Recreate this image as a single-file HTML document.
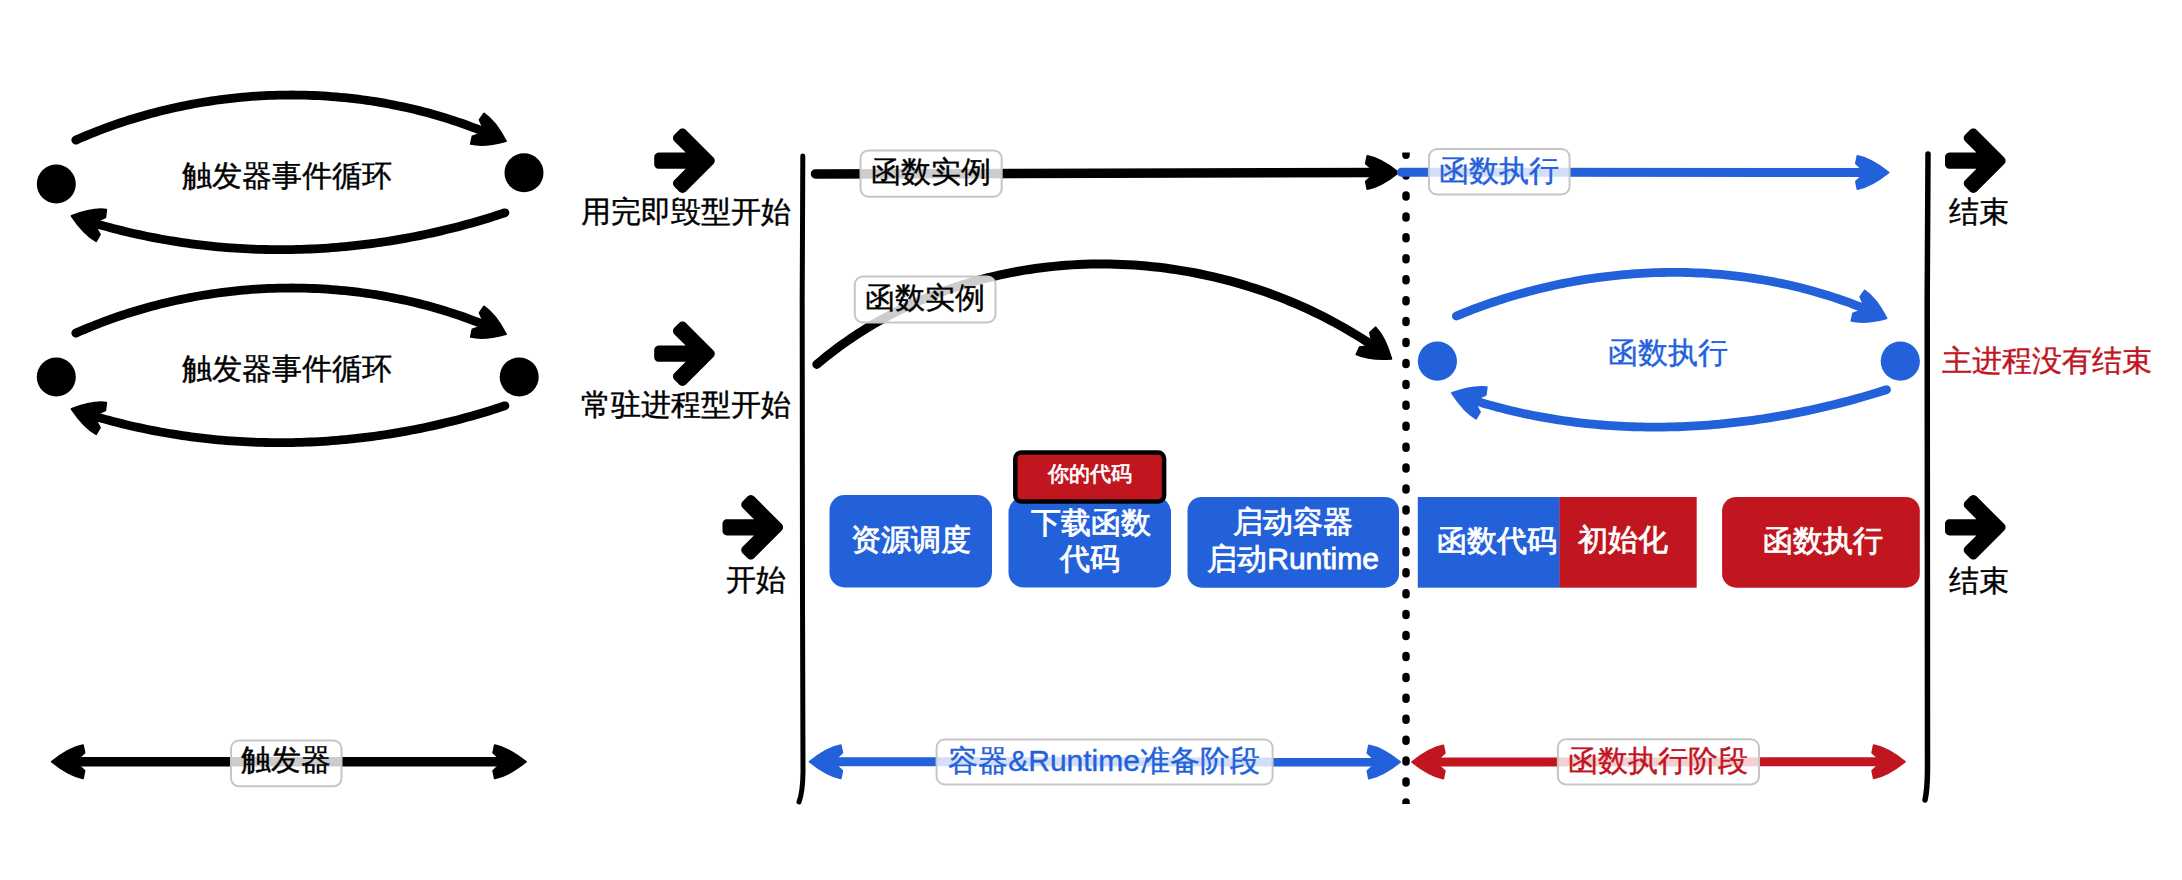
<!DOCTYPE html>
<html><head><meta charset="utf-8"><title>diagram</title>
<style>html,body{margin:0;padding:0;background:#fff;width:2182px;height:880px;overflow:hidden}
svg{display:block;font-family:"Liberation Sans",sans-serif}</style></head>
<body><svg width="2182" height="880" viewBox="0 0 2182 880">
<rect width="2182" height="880" fill="#fff"/>
<path d="M75.8 140.1 L79.86 138.32 L83.93 136.58 L88.02 134.88 L92.12 133.21 L96.24 131.58 L100.37 129.98 L104.52 128.41 L108.68 126.89 L112.85 125.39 L117.04 123.93 L121.24 122.51 L125.45 121.13 L129.68 119.77 L133.92 118.46 L138.17 117.18 L142.43 115.93 L146.7 114.73 L150.98 113.55 L155.27 112.42 L159.57 111.31 L163.88 110.25 L168.2 109.22 L172.53 108.22 L176.87 107.26 L181.22 106.34 L185.57 105.45 L189.94 104.6 L194.31 103.79 L198.68 103.01 L203.07 102.27 L207.46 101.56 L211.85 100.89 L216.25 100.25 L220.66 99.66 L225.07 99.09 L229.49 98.57 L233.91 98.08 L238.33 97.62 L242.76 97.21 L247.19 96.82 L251.63 96.48 L256.07 96.17 L260.51 95.9 L264.95 95.66 L269.39 95.46 L273.84 95.3 L278.28 95.18 L282.73 95.09 L287.18 95.03 L291.63 95.02 L296.07 95.04 L300.52 95.09 L304.97 95.19 L309.41 95.32 L313.86 95.49 L318.3 95.69 L322.74 95.93 L327.17 96.21 L331.61 96.52 L336.04 96.87 L340.47 97.26 L344.89 97.69 L349.31 98.15 L353.72 98.65 L358.13 99.19 L362.54 99.76 L366.94 100.37 L371.33 101.02 L375.72 101.71 L380.1 102.43 L384.48 103.19 L388.84 103.99 L393.2 104.82 L397.55 105.69 L401.9 106.6 L406.23 107.55 L410.56 108.53 L414.88 109.55 L419.19 110.61 L423.48 111.71 L427.77 112.84 L432.05 114.01 L436.32 115.22 L440.58 116.47 L444.82 117.75 L449.05 119.08 L453.27 120.44 L457.48 121.84 L461.68 123.27 L465.86 124.74 L470.03 126.26 L474.19 127.8 L478.33 129.39 L482.46 131.02 L486.57 132.68 L490.67 134.38 L492.71 135.25" fill="none" stroke="#000000" stroke-width="8.8" stroke-linecap="round" stroke-linejoin="round"/><path d="M505.9 141.1 Q484.27 146.97 470.89 143.89 L472.5 136.41 L478.88 134.27 L482.47 126.02 L479.67 119.9 L484.04 113.62 Q495.42 121.29 505.9 141.1Z" fill="#000000" stroke="#000000" stroke-width="2.0" stroke-linejoin="round"/>
<path d="M504.9 212.8 L500.7 214.19 L496.49 215.55 L492.28 216.88 L488.05 218.19 L483.82 219.47 L479.58 220.73 L475.34 221.96 L471.08 223.17 L466.82 224.35 L462.56 225.5 L458.28 226.63 L454 227.73 L449.72 228.8 L445.42 229.85 L441.13 230.87 L436.82 231.87 L432.51 232.84 L428.2 233.78 L423.87 234.69 L419.55 235.58 L415.22 236.45 L410.88 237.28 L406.54 238.09 L402.19 238.87 L397.84 239.63 L393.49 240.36 L389.13 241.06 L384.76 241.73 L380.4 242.38 L376.03 243 L371.65 243.6 L367.28 244.16 L362.9 244.7 L358.51 245.21 L354.13 245.69 L349.74 246.15 L345.35 246.58 L340.95 246.98 L336.56 247.35 L332.16 247.7 L327.76 248.02 L323.36 248.31 L318.95 248.57 L314.55 248.8 L310.14 249.01 L305.74 249.19 L301.33 249.34 L296.92 249.46 L292.51 249.55 L288.1 249.62 L283.69 249.66 L279.28 249.66 L274.87 249.64 L270.46 249.6 L266.05 249.52 L261.64 249.41 L257.23 249.28 L252.82 249.12 L248.42 248.93 L244.01 248.71 L239.61 248.46 L235.2 248.18 L230.8 247.87 L226.4 247.54 L222 247.17 L217.61 246.78 L213.22 246.35 L208.82 245.9 L204.44 245.42 L200.05 244.91 L195.67 244.37 L191.29 243.8 L186.91 243.2 L182.54 242.57 L178.17 241.91 L173.8 241.22 L169.44 240.5 L165.08 239.75 L160.73 238.97 L156.38 238.17 L152.04 237.33 L147.69 236.46 L143.36 235.56 L139.03 234.63 L134.7 233.68 L130.38 232.69 L126.07 231.67 L121.76 230.62 L117.46 229.54 L113.16 228.43 L108.87 227.29 L104.58 226.12 L100.3 224.92 L96.03 223.68 L91.76 222.42 L87.51 221.13 L85.38 220.47" fill="none" stroke="#000000" stroke-width="8.8" stroke-linecap="round" stroke-linejoin="round"/><path d="M71.6 216 Q92.52 207.95 106.14 209.65 L105.3 217.26 L99.17 220.03 L96.45 228.61 L99.85 234.41 L96.15 241.11 Q84.04 234.64 71.6 216Z" fill="#000000" stroke="#000000" stroke-width="2.0" stroke-linejoin="round"/>
<circle cx="56.3" cy="184" r="19.5" fill="#000"/>
<circle cx="524" cy="172.8" r="19.5" fill="#000"/>
<path d="M75.8 333.1 L79.86 331.32 L83.93 329.58 L88.02 327.88 L92.12 326.21 L96.24 324.58 L100.37 322.98 L104.52 321.41 L108.68 319.89 L112.85 318.39 L117.04 316.93 L121.24 315.51 L125.45 314.13 L129.68 312.77 L133.92 311.46 L138.17 310.18 L142.43 308.93 L146.7 307.73 L150.98 306.55 L155.27 305.42 L159.57 304.31 L163.88 303.25 L168.2 302.22 L172.53 301.22 L176.87 300.26 L181.22 299.34 L185.57 298.45 L189.94 297.6 L194.31 296.79 L198.68 296.01 L203.07 295.27 L207.46 294.56 L211.85 293.89 L216.25 293.25 L220.66 292.66 L225.07 292.09 L229.49 291.57 L233.91 291.08 L238.33 290.62 L242.76 290.21 L247.19 289.82 L251.63 289.48 L256.07 289.17 L260.51 288.9 L264.95 288.66 L269.39 288.46 L273.84 288.3 L278.28 288.18 L282.73 288.09 L287.18 288.03 L291.63 288.02 L296.07 288.04 L300.52 288.09 L304.97 288.19 L309.41 288.32 L313.86 288.49 L318.3 288.69 L322.74 288.93 L327.17 289.21 L331.61 289.52 L336.04 289.87 L340.47 290.26 L344.89 290.69 L349.31 291.15 L353.72 291.65 L358.13 292.19 L362.54 292.76 L366.94 293.37 L371.33 294.02 L375.72 294.71 L380.1 295.43 L384.48 296.19 L388.84 296.99 L393.2 297.82 L397.55 298.69 L401.9 299.6 L406.23 300.55 L410.56 301.53 L414.88 302.55 L419.19 303.61 L423.48 304.71 L427.77 305.84 L432.05 307.01 L436.32 308.22 L440.58 309.47 L444.82 310.75 L449.05 312.08 L453.27 313.44 L457.48 314.84 L461.68 316.27 L465.86 317.74 L470.03 319.26 L474.19 320.8 L478.33 322.39 L482.46 324.02 L486.57 325.68 L490.67 327.38 L492.71 328.25" fill="none" stroke="#000000" stroke-width="8.8" stroke-linecap="round" stroke-linejoin="round"/><path d="M505.9 334.1 Q484.27 339.97 470.89 336.89 L472.5 329.41 L478.88 327.27 L482.47 319.02 L479.67 312.9 L484.04 306.62 Q495.42 314.29 505.9 334.1Z" fill="#000000" stroke="#000000" stroke-width="2.0" stroke-linejoin="round"/>
<path d="M504.9 405.8 L500.7 407.19 L496.49 408.55 L492.28 409.88 L488.05 411.19 L483.82 412.47 L479.58 413.73 L475.34 414.96 L471.08 416.17 L466.82 417.35 L462.56 418.5 L458.28 419.63 L454 420.73 L449.72 421.8 L445.42 422.85 L441.13 423.87 L436.82 424.87 L432.51 425.84 L428.2 426.78 L423.87 427.69 L419.55 428.58 L415.22 429.45 L410.88 430.28 L406.54 431.09 L402.19 431.87 L397.84 432.63 L393.49 433.36 L389.13 434.06 L384.76 434.73 L380.4 435.38 L376.03 436 L371.65 436.6 L367.28 437.16 L362.9 437.7 L358.51 438.21 L354.13 438.69 L349.74 439.15 L345.35 439.58 L340.95 439.98 L336.56 440.35 L332.16 440.7 L327.76 441.02 L323.36 441.31 L318.95 441.57 L314.55 441.8 L310.14 442.01 L305.74 442.19 L301.33 442.34 L296.92 442.46 L292.51 442.55 L288.1 442.62 L283.69 442.66 L279.28 442.66 L274.87 442.64 L270.46 442.6 L266.05 442.52 L261.64 442.41 L257.23 442.28 L252.82 442.12 L248.42 441.93 L244.01 441.71 L239.61 441.46 L235.2 441.18 L230.8 440.87 L226.4 440.54 L222 440.17 L217.61 439.78 L213.22 439.35 L208.82 438.9 L204.44 438.42 L200.05 437.91 L195.67 437.37 L191.29 436.8 L186.91 436.2 L182.54 435.57 L178.17 434.91 L173.8 434.22 L169.44 433.5 L165.08 432.75 L160.73 431.97 L156.38 431.17 L152.04 430.33 L147.69 429.46 L143.36 428.56 L139.03 427.63 L134.7 426.68 L130.38 425.69 L126.07 424.67 L121.76 423.62 L117.46 422.54 L113.16 421.43 L108.87 420.29 L104.58 419.12 L100.3 417.92 L96.03 416.68 L91.76 415.42 L87.51 414.13 L85.38 413.47" fill="none" stroke="#000000" stroke-width="8.8" stroke-linecap="round" stroke-linejoin="round"/><path d="M71.6 409 Q92.52 400.95 106.14 402.65 L105.3 410.26 L99.17 413.03 L96.45 421.61 L99.85 427.41 L96.15 434.11 Q84.04 427.64 71.6 409Z" fill="#000000" stroke="#000000" stroke-width="2.0" stroke-linejoin="round"/>
<circle cx="56.3" cy="377" r="19.5" fill="#000"/>
<circle cx="519.2" cy="376.9" r="19.5" fill="#000"/>
<path d="M658.7 152.6 L657.54 152.75 L656.45 153.2 L655.52 153.92 L654.8 154.85 L654.35 155.94 L654.2 157.1 L654.2 164.3 L654.35 165.46 L654.8 166.55 L655.52 167.48 L656.45 168.2 L657.54 168.65 L658.7 168.8 L685.64 168.8 L674.25 180.19 L673.54 181.12 L673.09 182.21 L672.94 183.37 L673.09 184.54 L673.54 185.62 L674.25 186.55 L679.35 191.65 L680.28 192.36 L681.36 192.81 L682.53 192.96 L683.69 192.81 L684.78 192.36 L685.71 191.65 L713.47 163.88 L714.19 162.95 L714.64 161.86 L714.79 160.7 L714.64 159.54 L714.19 158.45 L713.47 157.52 L685.71 129.75 L684.78 129.04 L683.69 128.59 L682.53 128.44 L681.36 128.59 L680.28 129.04 L679.35 129.75 L674.25 134.85 L673.54 135.78 L673.09 136.86 L672.94 138.03 L673.09 139.19 L673.54 140.28 L674.25 141.21 L685.64 152.6 L658.7 152.6Z" fill="#000"/>
<path d="M658.7 345.6 L657.54 345.75 L656.45 346.2 L655.52 346.92 L654.8 347.85 L654.35 348.94 L654.2 350.1 L654.2 357.3 L654.35 358.46 L654.8 359.55 L655.52 360.48 L656.45 361.2 L657.54 361.65 L658.7 361.8 L685.64 361.8 L674.25 373.19 L673.54 374.12 L673.09 375.21 L672.94 376.37 L673.09 377.54 L673.54 378.62 L674.25 379.55 L679.35 384.65 L680.28 385.36 L681.36 385.81 L682.53 385.96 L683.69 385.81 L684.78 385.36 L685.71 384.65 L713.47 356.88 L714.19 355.95 L714.64 354.86 L714.79 353.7 L714.64 352.54 L714.19 351.45 L713.47 350.52 L685.71 322.75 L684.78 322.04 L683.69 321.59 L682.53 321.44 L681.36 321.59 L680.28 322.04 L679.35 322.75 L674.25 327.85 L673.54 328.78 L673.09 329.86 L672.94 331.03 L673.09 332.19 L673.54 333.28 L674.25 334.21 L685.64 345.6 L658.7 345.6Z" fill="#000"/>
<path d="M727 519.2 L725.84 519.35 L724.75 519.8 L723.82 520.52 L723.1 521.45 L722.65 522.54 L722.5 523.7 L722.5 530.9 L722.65 532.06 L723.1 533.15 L723.82 534.08 L724.75 534.8 L725.84 535.25 L727 535.4 L753.94 535.4 L742.55 546.79 L741.84 547.72 L741.39 548.81 L741.24 549.97 L741.39 551.14 L741.84 552.22 L742.55 553.15 L747.65 558.25 L748.58 558.96 L749.66 559.41 L750.83 559.56 L751.99 559.41 L753.08 558.96 L754.01 558.25 L781.77 530.48 L782.49 529.55 L782.94 528.46 L783.09 527.3 L782.94 526.14 L782.49 525.05 L781.77 524.12 L754.01 496.35 L753.08 495.64 L751.99 495.19 L750.83 495.04 L749.66 495.19 L748.58 495.64 L747.65 496.35 L742.55 501.45 L741.84 502.38 L741.39 503.46 L741.24 504.63 L741.39 505.79 L741.84 506.88 L742.55 507.81 L753.94 519.2 L727 519.2Z" fill="#000"/>
<path d="M1949.5 152.6 L1948.34 152.75 L1947.25 153.2 L1946.32 153.92 L1945.6 154.85 L1945.15 155.94 L1945 157.1 L1945 164.3 L1945.15 165.46 L1945.6 166.55 L1946.32 167.48 L1947.25 168.2 L1948.34 168.65 L1949.5 168.8 L1976.44 168.8 L1965.05 180.19 L1964.34 181.12 L1963.89 182.21 L1963.74 183.37 L1963.89 184.54 L1964.34 185.62 L1965.05 186.55 L1970.15 191.65 L1971.08 192.36 L1972.16 192.81 L1973.33 192.96 L1974.49 192.81 L1975.58 192.36 L1976.51 191.65 L2004.27 163.88 L2004.99 162.95 L2005.44 161.86 L2005.59 160.7 L2005.44 159.54 L2004.99 158.45 L2004.27 157.52 L1976.51 129.75 L1975.58 129.04 L1974.49 128.59 L1973.33 128.44 L1972.16 128.59 L1971.08 129.04 L1970.15 129.75 L1965.05 134.85 L1964.34 135.78 L1963.89 136.86 L1963.74 138.03 L1963.89 139.19 L1964.34 140.28 L1965.05 141.21 L1976.44 152.6 L1949.5 152.6Z" fill="#000"/>
<path d="M1949.5 519.2 L1948.34 519.35 L1947.25 519.8 L1946.32 520.52 L1945.6 521.45 L1945.15 522.54 L1945 523.7 L1945 530.9 L1945.15 532.06 L1945.6 533.15 L1946.32 534.08 L1947.25 534.8 L1948.34 535.25 L1949.5 535.4 L1976.44 535.4 L1965.05 546.79 L1964.34 547.72 L1963.89 548.81 L1963.74 549.97 L1963.89 551.14 L1964.34 552.22 L1965.05 553.15 L1970.15 558.25 L1971.08 558.96 L1972.16 559.41 L1973.33 559.56 L1974.49 559.41 L1975.58 558.96 L1976.51 558.25 L2004.27 530.48 L2004.99 529.55 L2005.44 528.46 L2005.59 527.3 L2005.44 526.14 L2004.99 525.05 L2004.27 524.12 L1976.51 496.35 L1975.58 495.64 L1974.49 495.19 L1973.33 495.04 L1972.16 495.19 L1971.08 495.64 L1970.15 496.35 L1965.05 501.45 L1964.34 502.38 L1963.89 503.46 L1963.74 504.63 L1963.89 505.79 L1964.34 506.88 L1965.05 507.81 L1976.44 519.2 L1949.5 519.2Z" fill="#000"/>
<path d="M802.8 156 L802.2 300 L802.5 600 L803 772 Q802.8 792 799 802" fill="none" stroke="#000" stroke-width="5" stroke-linecap="round" stroke-linejoin="round"/>
<path d="M1928 154 L1927.2 300 L1927.4 600 L1927.5 770 Q1927.3 790 1925 800" fill="none" stroke="#000" stroke-width="5.5" stroke-linecap="round" stroke-linejoin="round"/>
<clipPath id="dc"><rect x="1390" y="152.6" width="40" height="651.3"/></clipPath>
<path clip-path="url(#dc)" d="M1406 153.15 V812" stroke="#000" stroke-width="7.5" stroke-linecap="round" stroke-dasharray="2 18.93"/>
<path d="M815.5 173.9 L1384.4 172.53" stroke="#000000" stroke-width="9.5" stroke-linecap="round"/><path d="M1398.4 172.5 Q1380.93 186.54 1367.44 189.07 L1365.92 181.58 L1370.91 177.07 L1370.89 168.07 L1365.88 163.58 L1367.36 156.07 Q1380.87 158.54 1398.4 172.5Z" fill="#000000" stroke="#000000" stroke-width="2.0" stroke-linejoin="round"/>
<rect x="860.5" y="150.4" width="141.2" height="46.3" rx="8" fill="#fff" fill-opacity="0.8" stroke="#c6c6c6" stroke-width="2"/>
<path d="M1401.5 172.3 L1874.5 172.49" stroke="#2361DB" stroke-width="9" stroke-linecap="round"/><path d="M1888.5 172.5 Q1870.99 186.49 1857.49 188.99 L1856 181.49 L1861 176.99 L1861 167.99 L1856 163.49 L1857.51 155.99 Q1871.01 158.49 1888.5 172.5Z" fill="#2361DB" stroke="#2361DB" stroke-width="2.0" stroke-linejoin="round"/>
<rect x="1429" y="149" width="140.6" height="45.5" rx="8" fill="#fff" fill-opacity="0.8" stroke="#c6c6c6" stroke-width="2"/>
<path d="M816.8 364.4 L821.67 360.34 L826.58 356.37 L831.55 352.48 L836.57 348.68 L841.63 344.97 L846.75 341.34 L851.9 337.79 L857.11 334.34 L862.36 330.96 L867.65 327.67 L872.99 324.47 L878.36 321.35 L883.78 318.32 L889.24 315.37 L894.73 312.5 L900.26 309.72 L905.83 307.02 L911.44 304.41 L917.07 301.88 L922.74 299.43 L928.45 297.07 L934.18 294.79 L939.94 292.59 L945.74 290.47 L951.56 288.44 L957.4 286.49 L963.28 284.62 L969.18 282.84 L975.1 281.13 L981.04 279.51 L987.01 277.97 L993 276.51 L999.01 275.13 L1005.03 273.84 L1011.08 272.62 L1017.14 271.49 L1023.21 270.43 L1029.3 269.46 L1035.41 268.56 L1041.52 267.75 L1047.65 267.02 L1053.79 266.37 L1059.94 265.79 L1066.1 265.3 L1072.26 264.88 L1078.43 264.55 L1084.61 264.29 L1090.79 264.12 L1096.97 264.02 L1103.15 264 L1109.34 264.06 L1115.53 264.19 L1121.71 264.41 L1127.9 264.7 L1134.08 265.07 L1140.26 265.52 L1146.43 266.05 L1152.6 266.65 L1158.75 267.33 L1164.91 268.09 L1171.05 268.93 L1177.18 269.84 L1183.3 270.82 L1189.41 271.89 L1195.51 273.03 L1201.59 274.25 L1207.65 275.54 L1213.7 276.91 L1219.74 278.35 L1225.75 279.87 L1231.75 281.46 L1237.72 283.13 L1243.67 284.88 L1249.6 286.7 L1255.51 288.59 L1261.39 290.56 L1267.25 292.6 L1273.08 294.72 L1278.88 296.91 L1284.66 299.18 L1290.4 301.51 L1296.12 303.93 L1301.8 306.41 L1307.45 308.97 L1313.06 311.6 L1318.64 314.31 L1324.19 317.08 L1329.7 319.93 L1335.17 322.86 L1340.6 325.85 L1345.99 328.92 L1351.34 332.05 L1356.65 335.27 L1361.91 338.55 L1367.13 341.9 L1372.31 345.33 L1377.44 348.82 L1378.71 349.71" fill="none" stroke="#000000" stroke-width="9" stroke-linecap="round" stroke-linejoin="round"/><path d="M1391.3 358.8 Q1368.93 360.09 1356.47 354.32 L1359.59 347.33 L1366.27 346.56 L1371.48 339.22 L1370 332.65 L1375.57 327.4 Q1385.13 337.26 1391.3 358.8Z" fill="#000000" stroke="#000000" stroke-width="2.0" stroke-linejoin="round"/>
<rect x="854.8" y="276.5" width="140.7" height="46" rx="8" fill="#fff" fill-opacity="0.8" stroke="#c6c6c6" stroke-width="2"/>
<path d="M1456.4 316 L1460.49 314.32 L1464.59 312.67 L1468.7 311.05 L1472.83 309.46 L1476.98 307.91 L1481.13 306.38 L1485.3 304.89 L1489.48 303.43 L1493.68 302.01 L1497.88 300.61 L1502.1 299.25 L1506.33 297.92 L1510.57 296.63 L1514.82 295.36 L1519.08 294.13 L1523.35 292.93 L1527.63 291.77 L1531.92 290.64 L1536.22 289.54 L1540.53 288.47 L1544.84 287.44 L1549.17 286.44 L1553.5 285.47 L1557.84 284.54 L1562.19 283.64 L1566.55 282.78 L1570.91 281.95 L1575.28 281.15 L1579.65 280.39 L1584.03 279.66 L1588.42 278.97 L1592.81 278.31 L1597.21 277.68 L1601.61 277.09 L1606.02 276.53 L1610.43 276.01 L1614.84 275.52 L1619.26 275.07 L1623.68 274.65 L1628.1 274.27 L1632.53 273.92 L1636.96 273.61 L1641.39 273.33 L1645.82 273.09 L1650.26 272.89 L1654.69 272.72 L1659.13 272.58 L1663.56 272.48 L1668 272.42 L1672.43 272.39 L1676.87 272.4 L1681.31 272.44 L1685.74 272.52 L1690.17 272.64 L1694.6 272.79 L1699.03 272.98 L1703.46 273.21 L1707.89 273.47 L1712.31 273.77 L1716.73 274.1 L1721.14 274.48 L1725.55 274.89 L1729.96 275.33 L1734.37 275.82 L1738.77 276.34 L1743.16 276.89 L1747.55 277.49 L1751.93 278.12 L1756.31 278.79 L1760.68 279.5 L1765.05 280.25 L1769.41 281.03 L1773.76 281.85 L1778.1 282.71 L1782.44 283.61 L1786.77 284.54 L1791.09 285.52 L1795.4 286.53 L1799.7 287.58 L1804 288.67 L1808.28 289.8 L1812.56 290.96 L1816.82 292.17 L1821.08 293.41 L1825.32 294.7 L1829.55 296.02 L1833.78 297.38 L1837.99 298.78 L1842.19 300.22 L1846.37 301.7 L1850.55 303.22 L1854.71 304.77 L1858.86 306.37 L1862.99 308.01 L1867.12 309.69 L1871.22 311.4 L1873.27 312.28" fill="none" stroke="#2361DB" stroke-width="8.8" stroke-linecap="round" stroke-linejoin="round"/><path d="M1886.5 318.2 Q1864.85 324.01 1851.48 320.88 L1853.12 313.41 L1859.5 311.29 L1863.11 303.05 L1860.34 296.92 L1864.72 290.65 Q1876.08 298.36 1886.5 318.2Z" fill="#2361DB" stroke="#2361DB" stroke-width="2.0" stroke-linejoin="round"/>
<path d="M1886.5 389.7 L1882.3 391.03 L1878.1 392.34 L1873.88 393.63 L1869.65 394.9 L1865.42 396.14 L1861.17 397.36 L1856.92 398.56 L1852.66 399.74 L1848.39 400.89 L1844.12 402.03 L1839.83 403.13 L1835.54 404.22 L1831.24 405.28 L1826.93 406.32 L1822.62 407.34 L1818.3 408.33 L1813.97 409.3 L1809.64 410.24 L1805.3 411.16 L1800.95 412.06 L1796.6 412.93 L1792.24 413.77 L1787.88 414.6 L1783.51 415.39 L1779.13 416.17 L1774.76 416.91 L1770.37 417.64 L1765.98 418.33 L1761.59 419 L1757.2 419.65 L1752.8 420.27 L1748.39 420.86 L1743.99 421.43 L1739.58 421.97 L1735.16 422.49 L1730.75 422.98 L1726.33 423.44 L1721.9 423.88 L1717.48 424.28 L1713.05 424.67 L1708.63 425.02 L1704.2 425.35 L1699.76 425.65 L1695.33 425.92 L1690.9 426.16 L1686.46 426.38 L1682.03 426.57 L1677.59 426.73 L1673.15 426.86 L1668.72 426.96 L1664.28 427.03 L1659.84 427.08 L1655.41 427.1 L1650.97 427.08 L1646.54 427.04 L1642.1 426.97 L1637.67 426.87 L1633.24 426.74 L1628.81 426.58 L1624.38 426.39 L1619.95 426.17 L1615.53 425.92 L1611.11 425.64 L1606.69 425.33 L1602.27 424.99 L1597.86 424.61 L1593.45 424.21 L1589.04 423.78 L1584.64 423.31 L1580.24 422.81 L1575.84 422.29 L1571.45 421.73 L1567.06 421.13 L1562.68 420.51 L1558.3 419.85 L1553.93 419.17 L1549.56 418.45 L1545.2 417.69 L1540.84 416.91 L1536.49 416.09 L1532.14 415.24 L1527.8 414.35 L1523.47 413.44 L1519.14 412.48 L1514.82 411.5 L1510.51 410.48 L1506.2 409.43 L1501.91 408.35 L1497.61 407.23 L1493.33 406.07 L1489.05 404.88 L1484.78 403.66 L1480.52 402.4 L1476.27 401.11 L1472.03 399.78 L1467.8 398.42 L1465.68 397.73" fill="none" stroke="#2361DB" stroke-width="8.8" stroke-linecap="round" stroke-linejoin="round"/><path d="M1452 393 Q1473.06 385.33 1486.65 387.28 L1485.67 394.87 L1479.49 397.53 L1476.62 406.06 L1479.91 411.92 L1476.09 418.55 Q1464.1 411.86 1452 393Z" fill="#2361DB" stroke="#2361DB" stroke-width="2.0" stroke-linejoin="round"/>
<circle cx="1437.4" cy="361.2" r="19.6" fill="#2361DB"/>
<circle cx="1900.3" cy="361.2" r="19.6" fill="#2361DB"/>
<rect x="829.5" y="495" width="162.5" height="92.5" rx="15" fill="#2361DB"/>
<rect x="1008.5" y="497" width="162.5" height="90.5" rx="15" fill="#2361DB"/>
<rect x="1015.3" y="452.6" width="148.8" height="48.8" rx="6" fill="#C1161F" stroke="#000" stroke-width="4.5"/>
<rect x="1187.5" y="497" width="211.5" height="90.7" rx="14" fill="#2361DB"/>
<rect x="1417.8" y="497" width="142" height="90.7" fill="#2361DB"/>
<rect x="1559.5" y="497" width="137.2" height="90.7" fill="#C1161F"/>
<rect x="1722.1" y="497" width="197.7" height="90.7" rx="14" fill="#C1161F"/>
<path d="M65.9 761.7 L511.8 761.8" stroke="#000000" stroke-width="9.5" stroke-linecap="butt"/><path d="M525.8 761.8 Q508.3 775.8 494.8 778.29 L493.3 770.79 L498.3 766.29 L498.3 757.29 L493.3 752.79 L494.8 745.29 Q508.3 747.8 525.8 761.8Z" fill="#000000" stroke="#000000" stroke-width="2.0" stroke-linejoin="round"/><path d="M51.9 761.7 Q69.4 747.7 82.9 745.21 L84.4 752.71 L79.4 757.21 L79.4 766.21 L84.4 770.71 L82.9 778.21 Q69.4 775.7 51.9 761.7Z" fill="#000000" stroke="#000000" stroke-width="2.0" stroke-linejoin="round"/>
<rect x="231" y="740.5" width="110.5" height="45.8" rx="8" fill="#fff" fill-opacity="0.8" stroke="#c6c6c6" stroke-width="2"/>
<path d="M823.7 761.71 L1386 761.99" stroke="#2361DB" stroke-width="9" stroke-linecap="butt"/><path d="M1400 762 Q1382.49 775.99 1368.99 778.48 L1367.5 770.98 L1372.5 766.49 L1372.5 757.49 L1367.5 752.98 L1369.01 745.48 Q1382.51 747.99 1400 762Z" fill="#2361DB" stroke="#2361DB" stroke-width="2.0" stroke-linejoin="round"/><path d="M809.7 761.7 Q827.21 747.71 840.71 745.22 L842.2 752.72 L837.2 757.21 L837.2 766.21 L842.2 770.72 L840.69 778.22 Q827.19 775.71 809.7 761.7Z" fill="#2361DB" stroke="#2361DB" stroke-width="2.0" stroke-linejoin="round"/>
<rect x="936.6" y="739.5" width="336" height="45" rx="8" fill="#fff" fill-opacity="0.8" stroke="#c6c6c6" stroke-width="2"/>
<path d="M1426.2 761.99 L1890.8 761.81" stroke="#C1161F" stroke-width="9" stroke-linecap="butt"/><path d="M1904.8 761.8 Q1887.31 775.81 1873.81 778.31 L1872.3 770.81 L1877.3 766.31 L1877.3 757.31 L1872.3 752.81 L1873.79 745.31 Q1887.29 747.81 1904.8 761.8Z" fill="#C1161F" stroke="#C1161F" stroke-width="2.0" stroke-linejoin="round"/><path d="M1412.2 762 Q1429.69 747.99 1443.19 745.49 L1444.7 752.99 L1439.7 757.49 L1439.7 766.49 L1444.7 770.99 L1443.21 778.49 Q1429.71 775.99 1412.2 762Z" fill="#C1161F" stroke="#C1161F" stroke-width="2.0" stroke-linejoin="round"/>
<rect x="1557.9" y="739.3" width="201.1" height="45.1" rx="8" fill="#fff" fill-opacity="0.8" stroke="#c6c6c6" stroke-width="2"/>
<text id="t_loop1" x="286.5" y="185.9" font-size="30" fill="#000" text-anchor="middle" stroke="#000" stroke-width="0.4">触发器事件循环</text>
<text id="t_loop2" x="286.5" y="378.9" font-size="30" fill="#000" text-anchor="middle" stroke="#000" stroke-width="0.4">触发器事件循环</text>
<text id="t_ywjh" x="686.25" y="222.45" font-size="30" fill="#000" text-anchor="middle" stroke="#000" stroke-width="0.4">用完即毁型开始</text>
<text id="t_czjc" x="686.25" y="415.45" font-size="30" fill="#000" text-anchor="middle" stroke="#000" stroke-width="0.4">常驻进程型开始</text>
<text id="t_ks" x="755.6" y="589.5" font-size="30" fill="#000" text-anchor="middle" stroke="#000" stroke-width="0.4">开始</text>
<text id="t_js1" x="1978.75" y="222.45" font-size="30" fill="#000" text-anchor="middle" stroke="#000" stroke-width="0.4">结束</text>
<text id="t_js2" x="1978.75" y="590.5" font-size="30" fill="#000" text-anchor="middle" stroke="#000" stroke-width="0.4">结束</text>
<text id="t_hssl1" x="930.75" y="182.4" font-size="30" fill="#000" text-anchor="middle" stroke="#000" stroke-width="0.4">函数实例</text>
<text id="t_hszx1" x="1498.95" y="180.6" font-size="30" fill="#2361DB" text-anchor="middle" stroke="#2361DB" stroke-width="0.4">函数执行</text>
<text id="t_hssl2" x="924.9" y="308.3" font-size="30" fill="#000" text-anchor="middle" stroke="#000" stroke-width="0.4">函数实例</text>
<text id="t_hszx_mid" x="1668.45" y="363.2" font-size="30" fill="#2361DB" text-anchor="middle" stroke="#2361DB" stroke-width="0.4">函数执行</text>
<text id="t_zjc" x="2046.6" y="371.1" font-size="30" fill="#C1161F" text-anchor="middle" stroke="#C1161F" stroke-width="0.4">主进程没有结束</text>
<text id="t_zydd" x="910.6" y="550" font-size="30" fill="#fff" text-anchor="middle" stroke="#fff" stroke-width="0.8">资源调度</text>
<text id="t_xzhs" x="1090.6" y="532.55" font-size="30" fill="#fff" text-anchor="middle" stroke="#fff" stroke-width="0.8">下载函数</text>
<text id="t_dm" x="1090" y="569.3" font-size="30" fill="#fff" text-anchor="middle" stroke="#fff" stroke-width="0.8">代码</text>
<text id="t_nddm" x="1090.4" y="481.25" font-size="21" fill="#fff" text-anchor="middle" stroke="#fff" stroke-width="0.7">你的代码</text>
<text id="t_qdrq" x="1293.2" y="531.7" font-size="30" fill="#fff" text-anchor="middle" stroke="#fff" stroke-width="0.8">启动容器</text>
<text id="t_qdrt" x="1293.1" y="569.15" font-size="30" fill="#fff" text-anchor="middle" stroke="#fff" stroke-width="0.8">启动Runtime</text>
<text id="t_hsdm" x="1497" y="550.6" font-size="30" fill="#fff" text-anchor="middle" stroke="#fff" stroke-width="0.8">函数代码</text>
<text id="t_csh" x="1623.15" y="550.1" font-size="30" fill="#fff" text-anchor="middle" stroke="#fff" stroke-width="0.8">初始化</text>
<text id="t_hszx_r" x="1822.7" y="550.65" font-size="30" fill="#fff" text-anchor="middle" stroke="#fff" stroke-width="0.8">函数执行</text>
<text id="t_cfq" x="286" y="770.4" font-size="30" fill="#000" text-anchor="middle" stroke="#000" stroke-width="0.4">触发器</text>
<text id="t_rqzb" x="1104.1" y="770.7" font-size="30" fill="#2361DB" text-anchor="middle" stroke="#2361DB" stroke-width="0.4">容器&amp;Runtime准备阶段</text>
<text id="t_hszxjd" x="1658.3" y="771.05" font-size="30" fill="#C1161F" text-anchor="middle" stroke="#C1161F" stroke-width="0.4">函数执行阶段</text>
</svg></body></html>
